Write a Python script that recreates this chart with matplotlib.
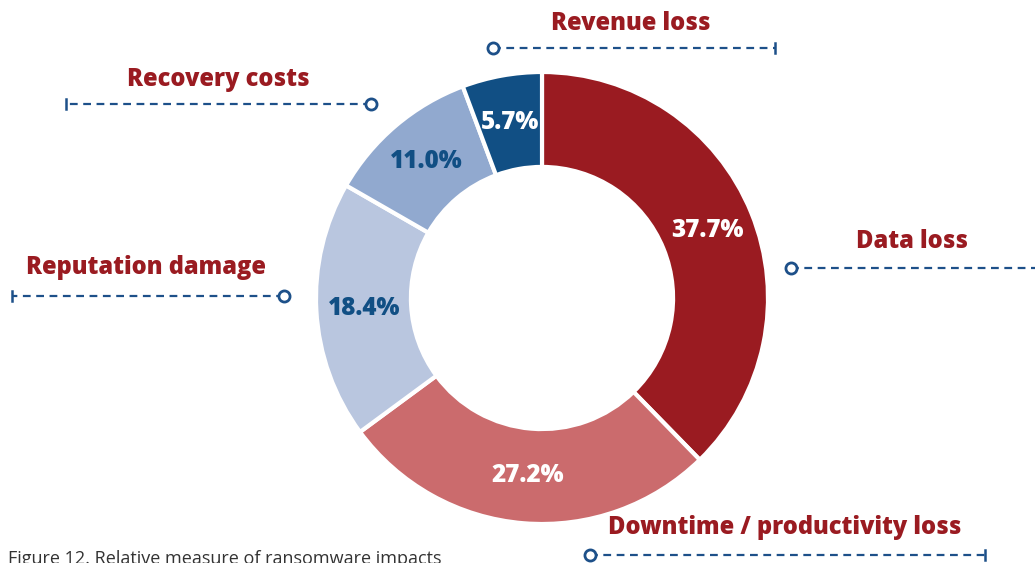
import matplotlib
matplotlib.use("Agg")
import matplotlib.pyplot as plt

# data
categories = ["Data loss", "Downtime / productivity loss", "Reputation damage",
              "Recovery costs", "Revenue loss"]
shares = [37.7, 27.2, 18.4, 11.0, 5.7]
colors = ["#9a1b21", "#cb6b6d", "#b9c6df", "#91a9cf", "#114f84"]
pct_colors = ["white", "white", "#114f84", "#114f84", "white"]

RED = "#9a1b21"
BLUE = "#1d5089"
W, H = 1035, 563

plt.rcParams["font.family"] = ["Open Sans", "DejaVu Sans"]

fig = plt.figure(figsize=(W / 100, H / 100), dpi=100)
ax = fig.add_axes([0, 0, 1, 1])

# donut, centre and radius in pixel units (y measured from bottom)
cx, cy, r = 542, H - 298, 226
wedges, texts, autotexts = ax.pie(
    shares, colors=colors, startangle=90, counterclock=False,
    center=(cx, cy), radius=r, autopct="%.1f%%", pctdistance=0.79,
    wedgeprops=dict(width=r * 0.42, edgecolor="white", linewidth=3),
    textprops=dict(fontsize=17.5, fontweight=800))
for t, c in zip(autotexts, pct_colors):
    t.set_color(c)

ax.set_xlim(0, W)
ax.set_ylim(0, H)
ax.set_aspect("equal")
ax.axis("off")


def leader(x_circle, x_end, y, tick=True):
    yy = H - y
    ax.plot([x_circle, x_end], [yy, yy], color=BLUE, lw=1.6,
            dashes=(3.5, 2.5), clip_on=False, solid_capstyle="butt")
    ax.plot([x_circle], [yy], marker="o", ms=8, mfc="white", mec=BLUE,
            mew=2, zorder=5)
    if tick:
        ax.plot([x_end, x_end], [yy - 5, yy + 5], color=BLUE, lw=1.8)


# outside labels with leader lines
label_pos = [(912, 241), (785, 528), (146, 268), (218, 79), (631, 23)]
lines = [(791, 1040, 268, False), (590, 985, 555, True), (284, 12, 296, True),
         (371, 66, 104, True), (493, 775, 48, True)]
for name, (tx, ty), (xc, xe, ly, tk) in zip(categories, label_pos, lines):
    ax.text(tx, H - ty, name, ha="center", va="center", color=RED,
            fontsize=17, fontweight=800)
    leader(xc, xe, ly, tk)

# caption, cut off at the bottom edge of the figure as in the source page
ax.text(8, H - 564, "Figure 12. Relative measure of ransomware impacts",
        ha="left", va="baseline", fontsize=13, color="#333333", clip_on=False)

fig.savefig("out.png", dpi=100)
